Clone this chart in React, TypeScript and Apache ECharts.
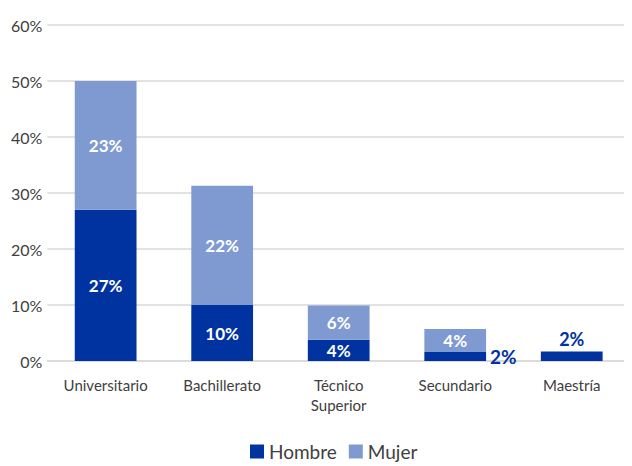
import React, { useEffect, useRef } from "react";
import * as echarts from "echarts";

const categories = ["Universitario", "Bachillerato", "Técnico\nSuperior", "Secundario", "Maestría"];
const hombre = [27, 10, 3.8, 1.6, 1.7];
const mujer = [23, 21.3, 6.1, 4.1, 0];
const hombreLabels = ["27%", "10%", "4%", "2%", "2%"];
const mujerLabels = ["23%", "22%", "6%", "4%", ""];
const yTicks = [0, 10, 20, 30, 40, 50, 60];

const DARK = "#0033A0";
const LIGHT = "#7F9AD1";
const FONT = "Lato, 'Open Sans', sans-serif";

export default function App() {
  const ref = useRef<HTMLDivElement>(null);
  useEffect(() => {
    if (!ref.current) return;
    const chart = echarts.init(ref.current, null, { renderer: "svg" });
    const hData = hombre.map((v, i) => {
      const base: any = { value: v };
      if (i === 3) {
        base.label = { position: "right", color: DARK, fontSize: 19, distance: 4, offset: [0, 0] };
      } else if (i === 4) {
        base.label = { position: "top", color: DARK, fontSize: 18, distance: 3 };
      }
      return base;
    });
    chart.setOption({
      animation: false,
      grid: { left: 39, right: 2, top: 17, bottom: 105 },
      legend: {
        left: 237,
        bottom: 0,
        itemWidth: 14,
        itemHeight: 14,
        itemGap: 12,
        icon: "rect",
        textStyle: { fontFamily: FONT, fontSize: 19, color: "#404040" },
        data: ["Hombre", "Mujer"],
      },
      xAxis: {
        type: "category",
        data: categories,
        axisLine: { lineStyle: { color: "#d9d9d9", width: 1.5 } },
        axisTick: { show: false },
        axisLabel: { fontFamily: FONT, fontSize: 15, color: "#404040", margin: 14, lineHeight: 20 },
      },
      yAxis: {
        type: "value",
        min: 0,
        max: 60,
        interval: 10,
        axisLine: { show: false },
        axisTick: { show: false },
        splitLine: { lineStyle: { color: "#d9d9d9", width: 1.5 } },
        axisLabel: {
          fontFamily: FONT,
          fontSize: 16,
          color: "#404040",
          margin: 5,
          formatter: (v: number) => (yTicks.includes(v) ? v + "%" : ""),
        },
      },
      series: [
        {
          name: "Hombre",
          type: "bar",
          stack: "total",
          barWidth: "53%",
          itemStyle: { color: DARK },
          data: hData,
          label: {
            show: true,
            position: "inside",
            color: "#ffffff",
            fontFamily: FONT,
            fontWeight: "bold",
            fontSize: 17,
            formatter: (p: any) => hombreLabels[p.dataIndex],
          },
        },
        {
          name: "Mujer",
          type: "bar",
          stack: "total",
          barWidth: "53%",
          itemStyle: { color: LIGHT },
          data: mujer,
          label: {
            show: true,
            position: "inside",
            color: "#ffffff",
            fontFamily: FONT,
            fontWeight: "bold",
            fontSize: 17,
            formatter: (p: any) => mujerLabels[p.dataIndex],
          },
        },
      ],
    });
    return () => chart.dispose();
  }, []);
  return <div ref={ref} style={{ width: 624, height: 458 }} />;
}
